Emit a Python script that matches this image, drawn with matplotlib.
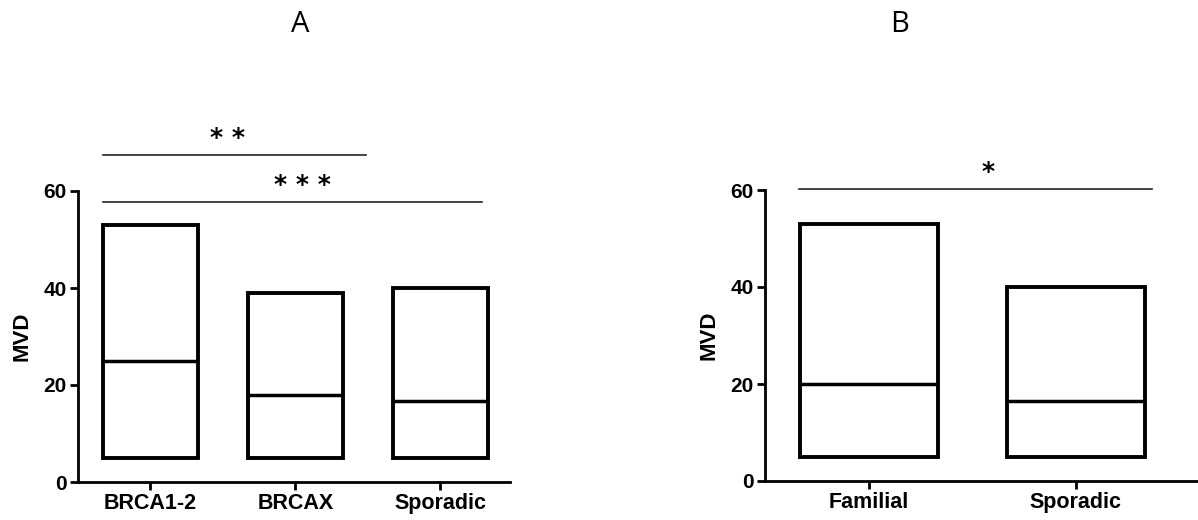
import matplotlib
matplotlib.use("Agg")
import matplotlib.pyplot as plt
from matplotlib.patches import Rectangle

plt.rcParams['font.family'] = ['Liberation Sans', 'DejaVu Sans']

# Panel A data
cats_a = ["BRCA1-2", "BRCAX", "Sporadic"]
min_a = [5, 5, 5]
max_a = [53, 39, 40]
med_a = [25, 18, 16.7]

# Panel B data
cats_b = ["Familial", "Sporadic"]
min_b = [5, 5]
max_b = [53, 40]
med_b = [20, 16.5]

# significance annotations: (x_start, x_end, y, label)
sig_a = [(-0.33, 1.49, 67.4, "* *"), (-0.33, 2.29, 57.7, "* * *")]
sig_b = [(-0.34, 1.37, 60.2, "*")]

yticks = [0, 20, 40, 60]

W, H = 1198, 520
fig = plt.figure(figsize=(W / 100, H / 100), dpi=100)


def px_axes(x0, x1, y_bottom, y_top):
    return fig.add_axes([x0 / W, 1 - y_bottom / H, (x1 - x0) / W, (y_bottom - y_top) / H])


def draw_panel(ax, cats, mins, maxs, meds, width, xlim, sigs, star_offsets):
    for i, (lo, hi, md) in enumerate(zip(mins, maxs, meds)):
        ax.add_patch(Rectangle((i - width / 2, lo), width, hi - lo, facecolor='white',
                               edgecolor='black', lw=2.8, joinstyle='miter', zorder=3))
        ax.plot([i - width / 2, i + width / 2], [md, md], color='black', lw=2.5,
                solid_capstyle='butt', zorder=4)
    ax.set_xlim(*xlim)
    ax.set_ylim(0, 60)
    ax.set_xticks(range(len(cats)))
    ax.set_xticklabels(cats, fontsize=15.5, fontweight='bold')
    ax.set_yticks(yticks)
    ax.set_yticklabels([str(t) for t in yticks], fontsize=15, fontweight='bold')
    ax.set_ylabel("MVD", fontsize=16, fontweight='bold', labelpad=8)
    for s in ['top', 'right']:
        ax.spines[s].set_visible(False)
    for s in ['left', 'bottom']:
        ax.spines[s].set_linewidth(2.0)
    ax.tick_params(axis='both', width=2.0, length=6, pad=2)
    for (x0, x1, y, lab), (sx, sy) in zip(sigs, star_offsets):
        ax.plot([x0, x1], [y, y], color='#222222', lw=1.2, clip_on=False)
        ax.text(sx, y + sy, lab, ha='center', va='center', fontsize=18,
                family='DejaVu Sans', fontweight='bold', clip_on=False)


axA = px_axes(78, 510, 482, 191)
draw_panel(axA, cats_a, min_a, max_a, med_a, 0.66, (-0.5, 2.48), sig_a,
           [(0.53, 3.6), (1.05, 3.6)])

axB = px_axes(765, 1198, 481, 190)
draw_panel(axB, cats_b, min_b, max_b, med_b, 0.67, (-0.502, 1.59), sig_b,
           [(0.575, 3.6)])

fig.text(300 / W, 1 - 24 / H, "A", ha='center', va='center', fontsize=21, family='Open Sans')
fig.text(900 / W, 1 - 24 / H, "B", ha='center', va='center', fontsize=21, family='Open Sans')

fig.savefig("out.png", dpi=100, facecolor='white')
